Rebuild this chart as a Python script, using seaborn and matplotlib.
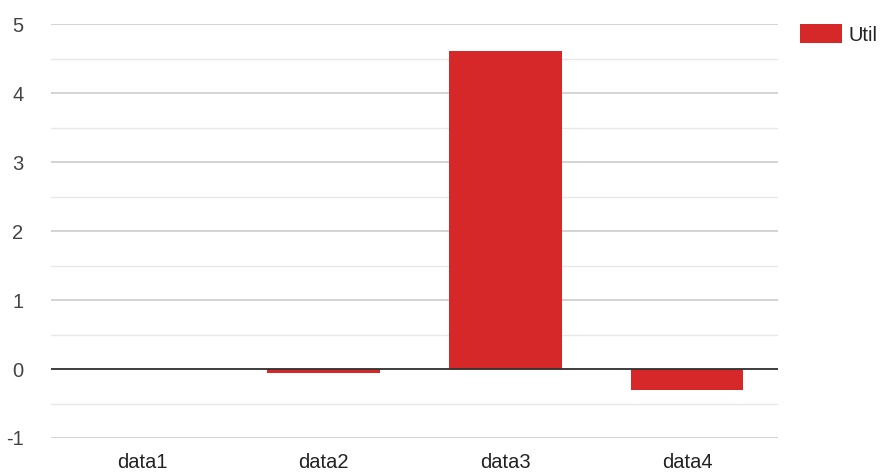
import matplotlib
matplotlib.use("Agg")
import matplotlib.pyplot as plt
import seaborn as sns
import pandas as pd
import numpy as np

categories = ["data1", "data2", "data3", "data4"]
util_values = [0.0, -0.06, 4.61, -0.30]
series_name = "Util"
y_ticks = [-1, 0, 1, 2, 3, 4, 5]

sns.set_theme(style="white")
plt.rcParams["font.family"] = ["Liberation Sans", "DejaVu Sans"]
plt.rcParams["axes.unicode_minus"] = False

df = pd.DataFrame({"category": categories, "value": util_values, "series": series_name})

fig = plt.figure(figsize=(8.83, 4.73), dpi=100)
ax = fig.add_axes([0.058, 0.074, 0.823, 0.875])

sns.barplot(data=df, x="category", y="value", hue="series", palette=["#d62828"],
            width=0.62, ax=ax, saturation=1, edgecolor="none")

ax.set_ylim(-1, 5)
ax.set_xlim(-0.5, 3.5)
ax.set_yticks(y_ticks)
ax.set_yticks(np.arange(-0.5, 5, 1.0), minor=True)
ax.grid(axis="y", which="major", color="#cccccc", linewidth=1.2, zorder=0)
ax.grid(axis="y", which="minor", color="#e8e8e8", linewidth=1.0, zorder=0)
ax.set_axisbelow(True)
ax.axhline(0, color="#333333", linewidth=1.3, zorder=3)

for s in ax.spines.values():
    s.set_visible(False)
ax.tick_params(axis="both", which="both", length=0, labelsize=14.5, colors="#444444")
ax.tick_params(axis="y", pad=20)
ax.tick_params(axis="x", pad=11)
for lbl in ax.get_xticklabels():
    lbl.set_color("#222222")
ax.set_xlabel("")
ax.set_ylabel("")

leg = ax.legend(loc="upper left", bbox_to_anchor=(1.030, 1.0), frameon=False,
                fontsize=14.5, handlelength=2.1, handleheight=1.1, handletextpad=0.3,
                borderaxespad=0, borderpad=0)
for t in leg.get_texts():
    t.set_color("#222222")

fig.savefig("out.png", dpi=100)
